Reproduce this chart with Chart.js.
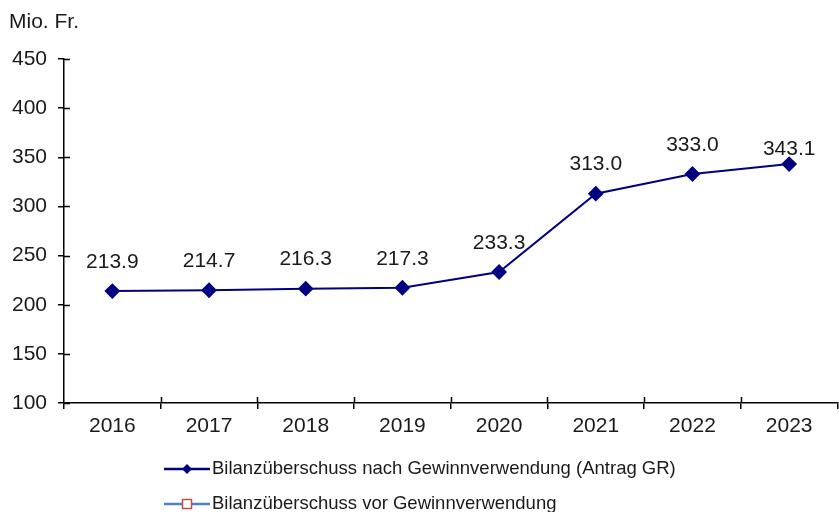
<!DOCTYPE html>
<html>
<head>
<meta charset="utf-8">
<script src="https://cdn.jsdelivr.net/npm/chart.js@4.4.1/dist/chart.umd.min.js"></script>
<style>
  html, body { margin: 0; padding: 0; background: #fff; overflow: hidden; }
  #wrap { width: 839px; height: 512px; overflow: hidden; }
</style>
</head>
<body>
<div id="wrap"><canvas id="bilanz" width="846" height="512"></canvas></div>
<script>
// Werte
const jahre = ['2016', '2017', '2018', '2019', '2020', '2021', '2022', '2023'];
const nachVerwendung = [213.9, 214.7, 216.3, 217.3, 233.3, 313.0, 333.0, 343.1];
const vorVerwendung = [null, null, null, null, null, null, null, null];
const yTicks = [100, 150, 200, 250, 300, 350, 400, 450];

const FONT = "'Liberation Sans', Arial, sans-serif";
const NAVY = '#000080';

// Wertbeschriftungen über den Punkten
const werteLabels = {
    id: 'werteLabels',
    afterDatasetsDraw(chart, args, opts) {
        const ctx = chart.ctx;
        const meta = chart.getDatasetMeta(0);
        ctx.save();
        ctx.font = '21px ' + FONT;
        ctx.fillStyle = '#1a1a1a';
        ctx.textAlign = 'center';
        ctx.textBaseline = 'middle';
        meta.data.forEach(function(pt, i) {
            const abstand = i === meta.data.length - 1 ? opts.letzter : opts.abstand;
            ctx.fillText(nachVerwendung[i].toFixed(1), pt.x, pt.y - abstand);
        });
        ctx.restore();
    }
};

// Einheit, Ticks nach innen und Legende
const extras = {
    id: 'extras',
    afterDraw(chart) {
        const ctx = chart.ctx;
        const area = chart.chartArea;
        const x = chart.scales.x;
        const y = chart.scales.y;
        ctx.save();

        ctx.font = '21px ' + FONT;
        ctx.fillStyle = '#1a1a1a';
        ctx.textBaseline = 'middle';
        ctx.fillText('Mio. Fr.', 9, 22);

        ctx.strokeStyle = '#000';
        ctx.lineWidth = 1.5;
        ctx.beginPath();
        y.ticks.forEach(function(t) {
            const py = Math.round(y.getPixelForValue(t.value)) + 0.5;
            ctx.moveTo(area.left, py);
            ctx.lineTo(area.left + 6, py);
        });
        const step = x.getPixelForValue(1) - x.getPixelForValue(0);
        for (let i = 1; i < jahre.length; i++) {
            const px = Math.round(x.getPixelForValue(i) - step / 2) + 0.5;
            ctx.moveTo(px, area.bottom);
            ctx.lineTo(px, area.bottom - 6);
        }
        ctx.stroke();

        // Legende
        const eintraege = [
            { text: chart.data.datasets[0].label, line: NAVY, marker: 'diamond', yPos: 469 },
            { text: chart.data.datasets[1].label, line: '#4f81bd', marker: 'square', yPos: 504 }
        ];
        ctx.font = '18.5px ' + FONT;
        const breit = Math.max.apply(null, eintraege.map(e => ctx.measureText(e.text).width));
        const start = Math.round((839 - (48 + breit)) / 2);
        eintraege.forEach(function(e) {
            ctx.strokeStyle = e.line;
            ctx.lineWidth = 2.5;
            ctx.beginPath();
            ctx.moveTo(start, e.yPos);
            ctx.lineTo(start + 46, e.yPos);
            ctx.stroke();
            const mx = start + 23;
            if (e.marker === 'diamond') {
                ctx.fillStyle = NAVY;
                ctx.beginPath();
                ctx.moveTo(mx, e.yPos - 5);
                ctx.lineTo(mx + 5, e.yPos);
                ctx.lineTo(mx, e.yPos + 5);
                ctx.lineTo(mx - 5, e.yPos);
                ctx.closePath();
                ctx.fill();
            } else {
                ctx.fillStyle = '#fff';
                ctx.strokeStyle = '#c0504d';
                ctx.lineWidth = 1.5;
                ctx.fillRect(mx - 4.5, e.yPos - 4.5, 9, 9);
                ctx.strokeRect(mx - 4.5, e.yPos - 4.5, 9, 9);
            }
            ctx.fillStyle = '#1a1a1a';
            ctx.textBaseline = 'middle';
            ctx.fillText(e.text, start + 48, e.yPos);
        });
        ctx.restore();
    }
};

new Chart(document.getElementById('bilanz').getContext('2d'), {
    type: 'line',
    data: {
        labels: jahre,
        datasets: [{
            label: 'Bilanzüberschuss nach Gewinnverwendung (Antrag GR)',
            data: nachVerwendung,
            borderColor: NAVY,
            backgroundColor: NAVY,
            borderWidth: 2,
            pointStyle: 'rectRot',
            pointRadius: 6.5,
            pointHoverRadius: 6.5,
            tension: 0
        }, {
            label: 'Bilanzüberschuss vor Gewinnverwendung',
            data: vorVerwendung,
            borderColor: '#4f81bd',
            backgroundColor: '#fff',
            pointStyle: 'rect',
            borderWidth: 2
        }]
    },
    options: {
        responsive: false,
        animation: false,
        layout: { padding: { top: 59, right: 0, left: 0, bottom: 0 } },
        plugins: {
            legend: { display: false },
            tooltip: { enabled: false },
            werteLabels: { abstand: 29, letzter: 15 }
        },
        scales: {
            x: {
                offset: true,
                grid: { offset: true, drawOnChartArea: false, color: '#000', lineWidth: 1.5, tickLength: 6 },
                border: { color: '#000', width: 1.5 },
                ticks: { color: '#1a1a1a', font: { family: FONT, size: 21 }, padding: 5, maxRotation: 0 },
                afterFit(scale) { scale.height = 109; }
            },
            y: {
                min: 100,
                max: 450,
                afterBuildTicks(scale) { scale.ticks = yTicks.map(v => ({ value: v })); },
                grid: { drawOnChartArea: false, color: '#000', lineWidth: 1.5, tickLength: 6 },
                border: { color: '#000', width: 1.5 },
                ticks: { color: '#1a1a1a', font: { family: FONT, size: 21 }, padding: 11 },
                afterFit(scale) { scale.width = 64; }
            }
        }
    },
    plugins: [werteLabels, extras]
});
</script>
</body>
</html>
